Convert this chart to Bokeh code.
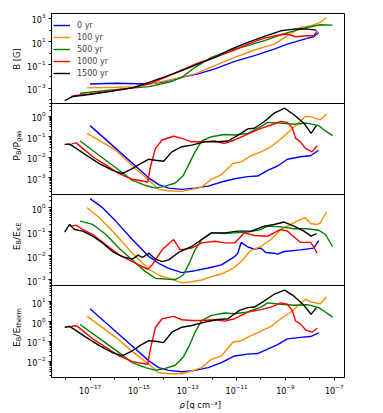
import numpy as np
from bokeh.plotting import figure
from bokeh.layouts import column, row
from bokeh.models import FixedTicker, Legend, LegendItem, Range1d
from bokeh.core.properties import value
from bokeh.embed import file_html
from bokeh.resources import INLINE

# ---------------- data (log10 rho [g cm^-3], log10 value) ----------------
years = ["0 yr", "100 yr", "500 yr", "1000 yr", "1500 yr"]
colors = ["#0000ff", "#ff8c00", "#008000", "#ff0000", "#000000"]

B_0yr = [(-17.00,-2.63),(-15.95,-2.57),(-14.59,-2.63),(-14.05,-2.49),(-13.24,-2.06),(-12.57,-1.77),(-11.89,-1.34),(-11.08,-0.69),(-10.27,-0.20),(-9.46,0.37),(-8.92,0.80),(-8.11,1.29),(-7.84,1.43),(-7.64,1.80)]
B_100yr = [(-17.12,-2.97),(-15.95,-2.91),(-15.14,-2.86),(-14.19,-2.49),(-13.51,-2.20),(-12.70,-1.77),(-11.89,-1.06),(-11.08,-0.34),(-10.27,0.29),(-9.46,0.80),(-8.92,1.51),(-8.38,2.23),(-7.97,2.37),(-7.57,2.66),(-7.32,3.09)]
B_500yr = [(-17.41,-3.43),(-16.62,-3.26),(-15.68,-3.06),(-14.59,-2.86),(-13.78,-2.49),(-13.24,-2.06),(-12.70,-1.20),(-12.03,-0.34),(-11.22,0.29),(-10.54,0.66),(-9.86,1.09),(-9.19,1.60),(-8.65,1.94),(-8.11,2.23),(-7.57,2.46),(-7.07,2.43)]
B_1000yr = [(-17.77,-3.71),(-17.57,-3.63),(-17.03,-3.49),(-16.22,-3.26),(-15.27,-2.97),(-14.59,-2.63),(-13.92,-2.06),(-13.24,-1.43),(-12.57,-0.83),(-11.89,-0.34),(-11.08,0.29),(-10.54,0.80),(-9.86,1.31),(-9.19,1.60),(-8.92,1.66),(-8.58,1.43),(-8.11,1.51),(-7.84,1.51),(-7.70,1.94)]
B_1500yr = [(-18.04,-4.06),(-17.70,-3.71),(-17.03,-3.54),(-16.22,-3.29),(-15.27,-2.97),(-14.59,-2.49),(-13.92,-2.00),(-13.24,-1.49),(-12.57,-0.91),(-11.89,-0.34),(-11.22,0.37),(-10.54,0.94),(-9.86,1.46),(-9.19,1.94),(-8.65,2.09),(-8.11,2.09),(-7.73,2.00)]

P_0yr = [(-17.00,-0.46),(-15.95,-1.57),(-14.59,-3.02),(-14.19,-3.34),(-13.78,-3.51),(-13.24,-3.57),(-12.70,-3.51),(-12.16,-3.41),(-11.62,-3.21),(-11.08,-3.05),(-10.54,-2.95),(-10.14,-2.92),(-9.73,-2.64),(-9.32,-2.43),(-8.92,-2.10),(-8.38,-1.98),(-7.97,-1.93),(-7.64,-1.66)]
P_100yr = [(-17.12,-0.84),(-15.95,-1.66),(-15.14,-2.56),(-14.59,-3.13),(-14.19,-3.57),(-13.78,-3.64),(-13.24,-3.67),(-12.84,-3.57),(-12.43,-3.46),(-12.03,-3.08),(-11.62,-2.85),(-11.15,-2.31),(-10.81,-2.23),(-10.41,-1.93),(-10.00,-1.74),(-9.59,-1.49),(-9.19,-1.11),(-8.78,-0.67),(-8.38,-0.23),(-8.18,0.00),(-7.97,-0.02),(-7.57,-0.18),(-7.32,0.11)]
P_500yr = [(-17.41,-1.21),(-16.62,-1.92),(-15.81,-2.64),(-15.27,-3.13),(-14.73,-3.38),(-14.32,-3.51),(-13.92,-3.41),(-13.51,-3.26),(-13.18,-2.89),(-12.97,-2.39),(-12.70,-1.74),(-12.43,-1.21),(-12.03,-1.00),(-11.49,-0.89),(-11.08,-0.92),(-10.54,-0.84),(-10.00,-0.51),(-9.73,-0.30),(-9.19,-0.34),(-8.65,-0.39),(-8.11,-0.34),(-7.64,-0.46),(-7.36,-0.72),(-7.07,-0.95)]
P_1000yr = [(-17.77,-1.36),(-17.57,-1.30),(-17.30,-1.57),(-16.89,-1.98),(-16.35,-2.39),(-15.81,-2.80),(-15.27,-3.08),(-14.64,-3.21),(-14.53,-2.48),(-14.32,-1.57),(-14.05,-1.16),(-13.58,-0.98),(-13.24,-1.08),(-12.84,-1.25),(-12.43,-1.25),(-11.89,-1.21),(-11.49,-1.33),(-11.08,-1.16),(-10.54,-0.87),(-10.00,-0.59),(-9.59,-0.43),(-9.19,-0.26),(-8.92,-0.30),(-8.72,-0.56),(-8.58,-1.08),(-8.38,-1.25),(-8.18,-1.57),(-7.91,-1.74),(-7.70,-1.44)]
P_1500yr = [(-18.04,-1.38),(-17.84,-1.36),(-17.57,-1.57),(-17.16,-1.90),(-16.62,-2.31),(-16.08,-2.64),(-15.68,-2.80),(-15.27,-2.56),(-14.93,-2.31),(-14.59,-2.10),(-14.32,-2.15),(-13.99,-2.20),(-13.65,-1.74),(-13.24,-1.49),(-12.84,-1.41),(-12.30,-1.25),(-11.76,-1.25),(-11.35,-1.21),(-10.88,-0.89),(-10.54,-0.62),(-10.27,-0.59),(-9.86,-0.26),(-9.46,0.15),(-9.03,0.39),(-8.65,0.07),(-8.24,-0.34),(-7.95,-0.84),(-7.73,-0.46)]

K_0yr = [(-17.00,0.39),(-16.49,0.01),(-15.95,-0.55),(-15.27,-1.32),(-14.59,-2.03),(-14.19,-2.31),(-13.78,-2.52),(-13.24,-2.70),(-12.70,-2.62),(-12.16,-2.51),(-11.62,-2.38),(-11.08,-2.03),(-10.95,-1.89),(-10.81,-1.44),(-10.54,-1.63),(-10.27,-1.72),(-10.00,-1.68),(-9.80,-1.86),(-9.46,-1.89),(-9.32,-1.93),(-9.05,-1.82),(-8.38,-1.75),(-7.84,-1.68),(-7.64,-1.37)]
K_100yr = [(-17.12,0.01),(-16.62,-0.41),(-15.95,-1.11),(-15.27,-1.89),(-14.59,-2.56),(-14.19,-2.80),(-13.78,-2.94),(-13.24,-3.13),(-12.84,-3.08),(-12.43,-3.01),(-12.03,-2.87),(-11.62,-2.76),(-11.15,-2.52),(-10.81,-2.24),(-10.41,-1.77),(-10.00,-1.61),(-9.59,-1.32),(-9.19,-0.90),(-8.78,-0.69),(-8.38,-0.48),(-8.18,-0.41),(-7.97,-0.65),(-7.70,-0.69),(-7.57,-0.62),(-7.32,-0.17)]
K_500yr = [(-17.41,-0.55),(-16.89,-0.69),(-16.35,-1.11),(-15.81,-1.68),(-15.27,-2.17),(-14.73,-2.66),(-14.32,-2.94),(-13.92,-2.97),(-13.51,-2.99),(-13.18,-2.80),(-12.97,-2.38),(-12.70,-1.75),(-12.43,-1.32),(-12.03,-1.04),(-11.49,-1.07),(-11.08,-1.04),(-10.54,-1.01),(-10.00,-0.90),(-9.73,-0.76),(-9.19,-0.79),(-8.65,-0.87),(-8.11,-0.87),(-7.64,-0.93),(-7.36,-1.11),(-7.07,-1.61)]
K_1000yr = [(-17.77,-0.76),(-17.57,-0.72),(-17.30,-0.90),(-16.89,-1.11),(-16.35,-1.54),(-15.81,-1.96),(-15.27,-2.24),(-14.64,-2.56),(-14.46,-2.38),(-14.05,-1.75),(-13.58,-1.32),(-13.31,-1.75),(-12.84,-1.68),(-12.43,-1.46),(-11.89,-1.39),(-11.49,-1.46),(-11.08,-1.46),(-10.68,-1.04),(-10.27,-1.15),(-9.73,-1.18),(-9.19,-0.90),(-8.92,-0.97),(-8.38,-1.44),(-7.97,-1.44),(-7.84,-1.63),(-7.70,-1.89)]
K_1500yr = [(-18.04,-1.01),(-17.84,-0.69),(-17.64,-0.90),(-17.30,-0.97),(-16.89,-1.18),(-16.49,-1.46),(-16.08,-1.82),(-15.68,-2.03),(-15.27,-2.14),(-15.03,-1.97),(-14.86,-2.07),(-14.59,-1.89),(-14.32,-2.14),(-14.05,-2.24),(-13.78,-2.17),(-13.38,-1.86),(-12.84,-1.61),(-12.43,-1.32),(-12.03,-1.04),(-11.49,-1.04),(-10.95,-0.97),(-10.41,-0.97),(-9.86,-0.76),(-9.46,-0.69),(-9.05,-0.59),(-8.65,-0.76),(-8.24,-0.97),(-7.95,-1.18),(-7.73,-1.07)]

T_0yr = [(-17.00,0.66),(-15.95,-0.50),(-14.59,-1.98),(-14.19,-2.32),(-13.78,-2.46),(-13.24,-2.53),(-12.70,-2.46),(-12.16,-2.32),(-11.62,-2.07),(-11.08,-1.73),(-10.54,-1.64),(-10.14,-1.61),(-9.73,-1.39),(-9.32,-1.16),(-8.92,-0.87),(-8.38,-0.79),(-7.97,-0.75),(-7.64,-0.57)]
T_100yr = [(-17.12,0.27),(-15.95,-0.79),(-15.14,-1.64),(-14.59,-2.15),(-14.19,-2.58),(-13.78,-2.63),(-13.24,-2.63),(-12.84,-2.49),(-12.43,-2.32),(-12.03,-1.90),(-11.62,-1.73),(-11.15,-1.04),(-10.81,-0.96),(-10.41,-0.70),(-10.00,-0.48),(-9.59,-0.24),(-9.19,0.15),(-8.78,0.49),(-8.38,0.91),(-8.18,1.14),(-7.97,1.00),(-7.57,0.91),(-7.32,1.26)]
T_500yr = [(-17.41,-0.14),(-16.62,-0.84),(-15.81,-1.56),(-15.27,-2.07),(-14.73,-2.32),(-14.32,-2.46),(-13.92,-2.36),(-13.51,-2.20),(-13.18,-1.78),(-12.97,-1.30),(-12.70,-0.53),(-12.43,0.06),(-12.03,0.32),(-11.49,0.44),(-11.08,0.40),(-10.54,0.49),(-10.00,0.74),(-9.73,0.95),(-9.19,0.88),(-8.65,0.83),(-8.11,0.86),(-7.64,0.71),(-7.36,0.49),(-7.07,0.23)]
T_1000yr = [(-17.77,-0.24),(-17.57,-0.19),(-17.30,-0.45),(-16.89,-0.87),(-16.35,-1.30),(-15.81,-1.73),(-15.27,-2.02),(-14.64,-2.15),(-14.53,-1.39),(-14.32,-0.28),(-14.05,0.15),(-13.58,0.27),(-13.24,0.10),(-12.84,0.06),(-12.43,0.06),(-11.89,0.10),(-11.49,0.03),(-11.08,0.15),(-10.54,0.49),(-10.00,0.61),(-9.59,0.74),(-9.19,0.95),(-8.92,0.88),(-8.72,0.57),(-8.58,0.03),(-8.38,-0.11),(-8.18,-0.41),(-7.91,-0.53),(-7.70,-0.33)]
T_1500yr = [(-18.04,-0.28),(-17.84,-0.24),(-17.57,-0.45),(-17.16,-0.79),(-16.62,-1.21),(-16.08,-1.56),(-15.68,-1.73),(-15.27,-1.47),(-14.93,-1.18),(-14.59,-0.96),(-14.32,-0.99),(-13.99,-1.06),(-13.65,-0.53),(-13.24,-0.28),(-12.84,-0.19),(-12.30,-0.02),(-11.76,0.11),(-11.35,0.15),(-10.88,0.57),(-10.54,0.71),(-10.27,0.74),(-9.86,1.05),(-9.46,1.39),(-9.03,1.60),(-8.65,1.29),(-8.24,0.83),(-7.95,0.37),(-7.73,0.71)]

# axis limits (log10) and labelled tick exponents
x_lim = (-18.58, -6.58)
x_major = [-17, -15, -13, -11, -9, -7]
panels = [
    dict(series=[B_0yr, B_100yr, B_500yr, B_1000yr, B_1500yr], ylim=(-4.4, 3.43), major=[-3, -1, 1, 3], step=2,
         label=[("B [G]", False)]),
    dict(series=[P_0yr, P_100yr, P_500yr, P_1000yr, P_1500yr], ylim=(-3.87, 0.62), major=[-3, -2, -1, 0], step=1,
         label=[("P", False), ("B", True), ("/P", False), ("gas", True)]),
    dict(series=[K_0yr, K_100yr, K_500yr, K_1000yr, K_1500yr], ylim=(-3.28, 0.56), major=[-3, -2, -1, 0], step=1,
         label=[("E", False), ("B", True), ("/E", False), ("KE", True)]),
    dict(series=[T_0yr, T_100yr, T_500yr, T_1000yr, T_1500yr], ylim=(-2.82, 1.83), major=[-2, -1, 0, 1], step=1,
         label=[("E", False), ("B", True), ("/E", False), ("therm", True)]),
]
x_label_sym = "ρ"
x_label_rest = "[g cm⁻³]"

# ---------------- layout ----------------
FONT = "DejaVu Sans"
TICK_FS = 8.0
LAB_FS = 8.3        # plain labels
MATH_FS = 9.3       # labels with subscripts
LEG_FS = 8.0
CW = {'P': .603, 'B': .686, '/': .337, 'E': .632, 'K': .656, 'g': .635, 'a': .613, 's': .521,
      't': .392, 'h': .634, 'e': .615, 'r': .411, 'm': .974, ' ': .318, '[': .390, ']': .390, 'G': .775}


def text_w(s, fs):
    return sum(CW.get(c, .6) for c in s) * fs


def minor_list(lo, hi, step):
    out = []
    for d in range(int(np.floor(lo)) - 1, int(np.ceil(hi)) + 1):
        if step == 1:
            out += [k * 10.0 ** d for k in range(2, 10)]
        elif d % 2 == 0:
            out.append(10.0 ** d)
    return out


def style_axis(ax):
    ax.major_label_text_font = FONT
    ax.major_label_text_font_size = f"{TICK_FS}px"
    ax.major_label_text_color = "black"
    ax.major_tick_out = 3
    ax.major_tick_in = 0
    ax.minor_tick_out = 2
    ax.minor_tick_in = 0
    ax.major_label_standoff = 3
    ax.axis_line_color = "black"
    ax.major_tick_line_color = "black"
    ax.minor_tick_line_color = "black"


# the page is drawn from the window's top-left corner, so the reference's
# white margin is reproduced by the borders below
YL_W = 24          # width of the y-label strip
W = 344            # width of each panel figure
LEFT, RIGHT = 24, 24
XL_H = 12
frame_h = [91, 92, 92, 92]
tops = [13, 0, 0, 0]
bottoms = [0, 0, 0, 20]

x_range = Range1d(10 ** x_lim[0], 10 ** x_lim[1])
figs = []
first_renderers = []
frame_centers = []
y_cursor = 0
for i, pan in enumerate(panels):
    last = i == len(panels) - 1
    ylo, yhi = pan["ylim"]
    h = frame_h[i] + tops[i] + bottoms[i]
    p = figure(width=W, height=h, x_range=x_range,
               y_range=Range1d(10 ** ylo, 10 ** yhi),
               x_axis_type="log", y_axis_type="log",
               x_axis_location="below" if last else None,
               output_backend="svg", toolbar_location=None,
               min_border_left=LEFT, min_border_right=RIGHT,
               min_border_top=tops[i], min_border_bottom=bottoms[i])
    if i > 0:
        p.margin = (-1, 0, 0, 0)
        y_cursor -= 1
    frame_centers.append(y_cursor + tops[i] + frame_h[i] / 2)
    y_cursor += h
    p.grid.visible = False
    p.outline_line_color = "black"
    p.outline_line_width = 1
    p.background_fill_color = "white"
    p.border_fill_color = "white"

    p.yaxis.ticker = FixedTicker(ticks=[10.0 ** e for e in pan["major"]],
                                 minor_ticks=minor_list(ylo, yhi, pan["step"]))
    for ax in p.yaxis:
        style_axis(ax)
    if last:
        p.xaxis.ticker = FixedTicker(ticks=[10.0 ** e for e in x_major],
                                     minor_ticks=minor_list(x_lim[0], x_lim[1], 2))
        for ax in p.xaxis:
            style_axis(ax)

    for ser, col in zip(pan["series"], colors):
        xs = [10.0 ** a for a, b in ser]
        ys = [10.0 ** b for a, b in ser]
        r = p.line(xs, ys, line_color=col, line_width=1.4)
        if i == 0:
            first_renderers.append(r)
    figs.append(p)

legend = Legend(items=[LegendItem(label=lab, renderers=[r]) for lab, r in zip(years, first_renderers)],
                location=(2, 25), margin=0, padding=5, spacing=0,
                glyph_width=17, glyph_height=12, label_height=12, label_standoff=7,
                label_text_font=FONT, label_text_font_size=f"{LEG_FS}px",
                border_line_color=None, background_fill_alpha=0)
figs[0].add_layout(legend)

# x-axis label strip
xl = figure(width=W, height=XL_H, x_range=Range1d(0, W), y_range=Range1d(0, XL_H),
            x_axis_location=None, y_axis_location=None, output_backend="svg",
            toolbar_location=None, min_border=0)
xl.outline_line_color = None
xl.grid.visible = False
xc = LEFT + (W - LEFT - RIGHT) / 2
sym_w = 0.64 * LAB_FS
gap_w = 0.318 * LAB_FS
rest_w = 4.30 * LAB_FS
x0 = xc - (sym_w + gap_w + rest_w) / 2
XL_BASE = 4.5
xl.text(x=[x0], y=[XL_BASE], text=[x_label_sym], text_font=value(FONT), text_font_style="italic",
        text_font_size=value(f"{LAB_FS}px"), text_align="left", text_baseline="alphabetic",
        text_color="black")
xl.text(x=[x0 + sym_w + gap_w], y=[XL_BASE], text=[x_label_rest], text_font=value(FONT),
        text_font_size=value(f"{LAB_FS}px"), text_align="left", text_baseline="alphabetic",
        text_color="black")

# y-axis label strip (rotated labels with subscripts)
panel_h = y_cursor + XL_H
yl = figure(width=YL_W, height=panel_h, x_range=Range1d(0, YL_W), y_range=Range1d(0, panel_h),
            x_axis_location=None, y_axis_location=None, output_backend="svg",
            toolbar_location=None, min_border=0)
yl.outline_line_color = None
yl.grid.visible = False
BASE_X = 16.0
for pan, fc in zip(panels, frame_centers):
    parts = pan["label"]
    is_math = len(parts) > 1
    main_fs = MATH_FS if is_math else LAB_FS
    widths = [text_w(t, main_fs * (0.7 if sub else 1.0)) for t, sub in parts]
    centre = fc - (4 if is_math else 0)
    pos = centre + sum(widths) / 2          # page-down coordinate of the text start
    for (t, sub), w in zip(parts, widths):
        fs = main_fs * (0.7 if sub else 1.0)
        yl.text(x=[BASE_X + (2.2 if sub else 0.0)], y=[panel_h - pos], text=[t],
                angle=np.pi / 2, text_font=value(FONT), text_font_size=value(f"{fs:.2f}px"),
                text_align="left", text_baseline="alphabetic", text_color="black")
        pos -= w

layout = row(yl, column(*figs, xl, spacing=0), spacing=0)
open("out.html", "w").write(file_html(layout, INLINE))
